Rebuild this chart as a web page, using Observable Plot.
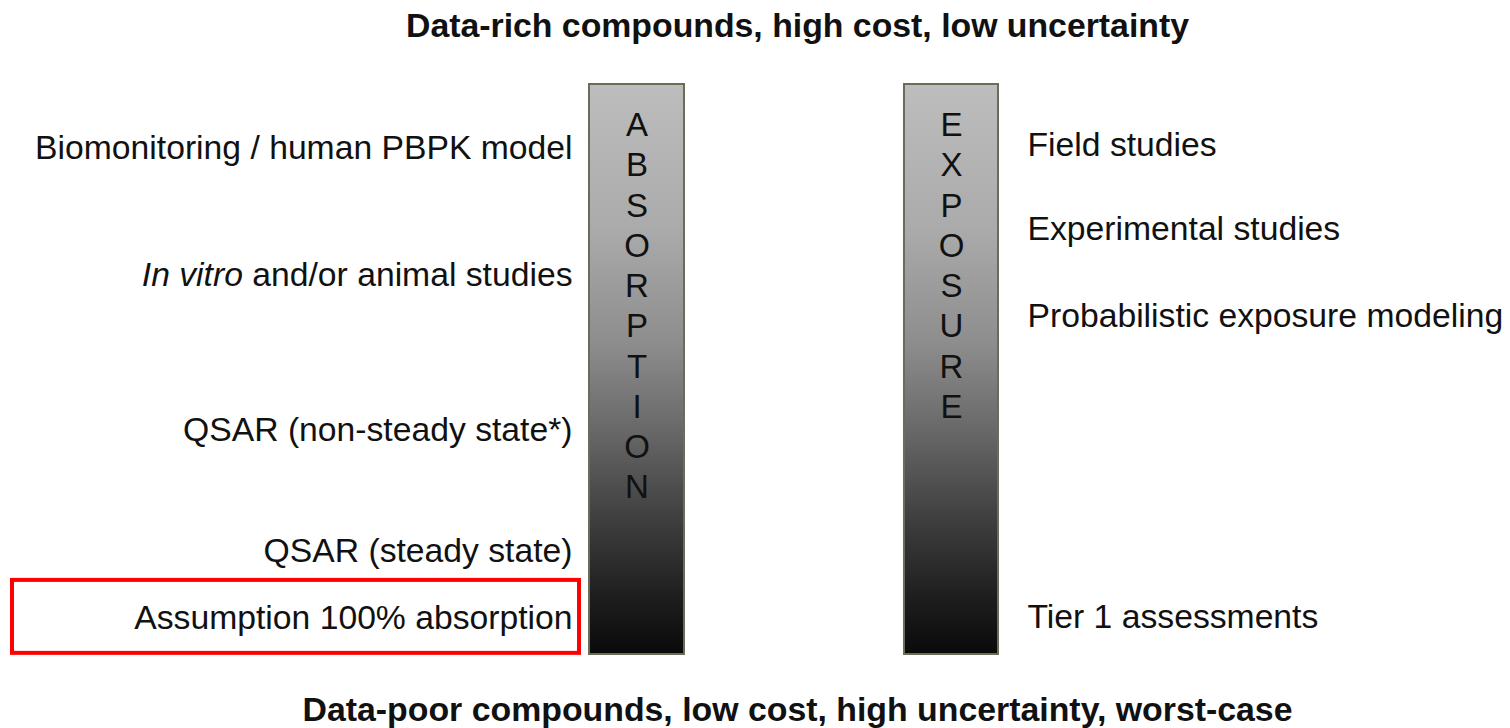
<!DOCTYPE html>
<html><head><meta charset="utf-8">
<script src="https://cdn.jsdelivr.net/npm/d3@7"></script>
<script src="https://cdn.jsdelivr.net/npm/@observablehq/plot@0.6"></script>
<style>
html,body{margin:0;padding:0;background:#fff;}
#chart svg{display:block;}
</style></head><body><div id="chart"></div>
<script>
// ---- data ----
const topTitle = "Data-rich compounds, high cost, low uncertainty";
const bottomTitle = "Data-poor compounds, low cost, high uncertainty, worst-case";
const pillars = ["ABSORPTION", "EXPOSURE"];
const absorptionLabels = ["Biomonitoring / human PBPK model", "In vitro and/or animal studies", "QSAR (non-steady state*)", "QSAR (steady state)", "Assumption 100% absorption"];
const absorptionLevels = [88.8, 66.5, 39.3, 18.2, 6.3];   // data richness, 0 = bottom of pillar, 100 = top
const exposureLabels = ["Field studies", "Experimental studies", "Probabilistic exposure modeling", "Tier 1 assessments"];
const exposureLevels = [89.3, 74.7, 59.3, 6.5];
const highlighted = "Assumption 100% absorption";
const italicPrefix = "In vitro";

// ---- layout / styles ----
const W = 1510, H = 728;
const pillarX = {ABSORPTION: [589, 684], EXPOSURE: [904, 998]};
const leftLabelX = 572, rightLabelX = 1027, titleX = 797;
const titleWidths = {top: 783, bottom: 990};
const boxX = [12, 579];
const font = "Liberation Sans, Arial, Helvetica, sans-serif";
const titleFont = "Liberation Sans Narrow, Arial Narrow, Liberation Sans, Arial, sans-serif";

const leftRows = absorptionLabels.map((t, i) => ({t, v: absorptionLevels[i]}));
const rightRows = exposureLabels.map((t, i) => ({t, v: exposureLevels[i]}));
const boxRows = leftRows.filter(d => d.t === highlighted);

const chart = Plot.plot({
  width: W, height: H,
  marginTop: 84, marginBottom: 74, marginLeft: 0, marginRight: 0,
  x: {domain: [0, W], axis: null},
  y: {domain: [0, 100], axis: null},
  style: {fontFamily: font, background: "#fff", overflow: "visible"},
  marks: [
    Plot.rect(pillars, {x1: d => pillarX[d][0], x2: d => pillarX[d][1], y1: 0, y2: 100,
      fill: "url(#pillarGrad)", stroke: "#6b6b58", strokeWidth: 2}),
    Plot.text(pillars, {x: d => (pillarX[d][0] + pillarX[d][1]) / 2, y: 100,
      text: d => d.split("").join("\n"), lineAnchor: "top", lineHeight: 1.22, dy: 23,
      fontSize: 33, fill: "#111"}),
    Plot.text(leftRows, {x: leftLabelX, y: "v", text: "t", textAnchor: "end", fontSize: 33.7, fill: "#111"}),
    Plot.text(rightRows, {x: rightLabelX, y: "v", text: "t", textAnchor: "start", fontSize: 33.7, fill: "#111"}),
    Plot.rect(boxRows, {x1: boxX[0], x2: boxX[1], y1: d => d.v - 6.1, y2: d => d.v + 6.7,
      fill: "none", stroke: "#ff0000", strokeWidth: 4}),
    Plot.text([topTitle], {x: titleX, frameAnchor: "top", lineAnchor: "middle", dy: -58, text: d => d,
      fontSize: 33, fontWeight: "bold", fill: "#111", fontFamily: titleFont, className: "title-top"}),
    Plot.text([bottomTitle], {x: titleX, frameAnchor: "bottom", lineAnchor: "middle", dy: 56, text: d => d,
      fontSize: 33, fontWeight: "bold", fill: "#111", fontFamily: titleFont, className: "title-bottom"})
  ]
});

// gradient for the pillars
const defs = d3.select(chart).insert("defs", ":first-child");
const grad = defs.append("linearGradient").attr("id", "pillarGrad")
  .attr("x1", 0).attr("y1", 0).attr("x2", 0).attr("y2", 1);
[[0, "#bdbdbd"], [0.25, "#ababab"], [0.45, "#8e8e8e"], [0.6, "#6a6a6a"], [0.75, "#424242"], [0.9, "#1e1e1e"], [1, "#0a0a0a"]]
  .forEach(([o, c]) => grad.append("stop").attr("offset", o).attr("stop-color", c));

// condensed bold titles
d3.select(chart).selectAll(".title-top text").attr("textLength", titleWidths.top).attr("lengthAdjust", "spacingAndGlyphs");
d3.select(chart).selectAll(".title-bottom text").attr("textLength", titleWidths.bottom).attr("lengthAdjust", "spacingAndGlyphs");

// italic prefix
d3.select(chart).selectAll("text").each(function() {
  const t = this.textContent;
  if (t.startsWith(italicPrefix + " ")) {
    const rest = t.slice(italicPrefix.length);
    this.textContent = "";
    d3.select(this).append("tspan").attr("font-style", "italic").text(italicPrefix);
    d3.select(this).append("tspan").text(rest);
  }
});

document.getElementById("chart").appendChild(chart);
</script></body></html>
